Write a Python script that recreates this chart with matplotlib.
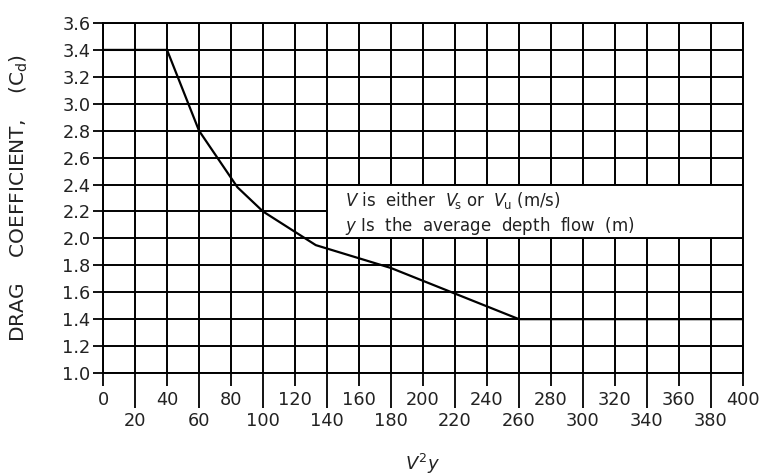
import matplotlib
matplotlib.use("Agg")
import matplotlib.pyplot as plt
from matplotlib.patches import Rectangle

# data
v2y = [0, 40, 60, 84, 100, 133, 180, 220, 260, 400]
cd = [3.4, 3.4, 2.8, 2.38, 2.2, 1.95, 1.78, 1.59, 1.4, 1.4]

x_major = list(range(0, 401, 40))
x_minor = list(range(20, 400, 40))
y_ticks = [1.0, 1.2, 1.4, 1.6, 1.8, 2.0, 2.2, 2.4, 2.6, 2.8, 3.0, 3.2, 3.4, 3.6]

note_box = (140, 2.0, 260, 0.4)  # x, y, width, height in data units

plt.rcParams['font.family'] = ['DejaVu Sans']
plt.rcParams['mathtext.fontset'] = 'custom'
plt.rcParams['mathtext.rm'] = 'DejaVu Sans'
plt.rcParams['mathtext.it'] = 'DejaVu Sans:italic'

fig = plt.figure(figsize=(7.69, 4.75), dpi=100)
ax = fig.add_axes([0.134, 0.2147, 0.832, 0.7369])

ax.plot(v2y, cd, color='black', lw=1.6, zorder=4, solid_joinstyle='miter')

ax.set_xlim(0, 400)
ax.set_ylim(1.0, 3.6)
ax.set_xticks(x_major)
ax.set_xticks(x_minor, minor=True)
ax.set_xticklabels([str(v) for v in x_major])
ax.set_xticklabels([str(v) for v in x_minor], minor=True)
ax.set_yticks(y_ticks)
ax.set_yticklabels([f'{v:.1f}' for v in y_ticks])

ax.tick_params(axis='x', which='major', length=9, width=1.3, pad=4,
               labelsize=12.8, colors='black')
ax.tick_params(axis='x', which='minor', length=25, width=1.3, pad=3,
               labelsize=12.8, colors='black')
ax.tick_params(axis='y', length=7, width=1.3, pad=2, labelsize=12.8,
               colors='black')
for lab in ax.get_xticklabels() + ax.get_xticklabels(minor=True) + ax.get_yticklabels():
    lab.set_color('#222222')

ax.grid(True, which='both', axis='x', color='black', lw=1.4)
ax.grid(True, which='major', axis='y', color='black', lw=1.4)
ax.set_axisbelow(True)
for s in ax.spines.values():
    s.set_linewidth(1.4)

ax.add_patch(Rectangle(note_box[:2], note_box[2], note_box[3],
                       facecolor='white', edgecolor='black', lw=1.4, zorder=3))
ax.text(151, 2.28, r'$V$ is  either  $V_{\!\mathrm{s}}$ or  $V_{\!\mathrm{u}}$ (m/s)', fontsize=12,
        color='#222222', va='center', ha='left', zorder=5)
ax.text(151, 2.09, r'$y$ Is  the  average  depth  flow  (m)', fontsize=12,
        color='#222222', va='center', ha='left', zorder=5)

ax.set_ylabel(r'DRAG    COEFFICIENT,    (C$_\mathrm{d}$)', fontsize=14.5, color='#222222')
ax.yaxis.set_label_coords(-0.114, 0.5)
ax.set_xlabel(r'$V^2y$', fontsize=13, color='#222222', labelpad=16)

fig.savefig('out.png', dpi=100)
